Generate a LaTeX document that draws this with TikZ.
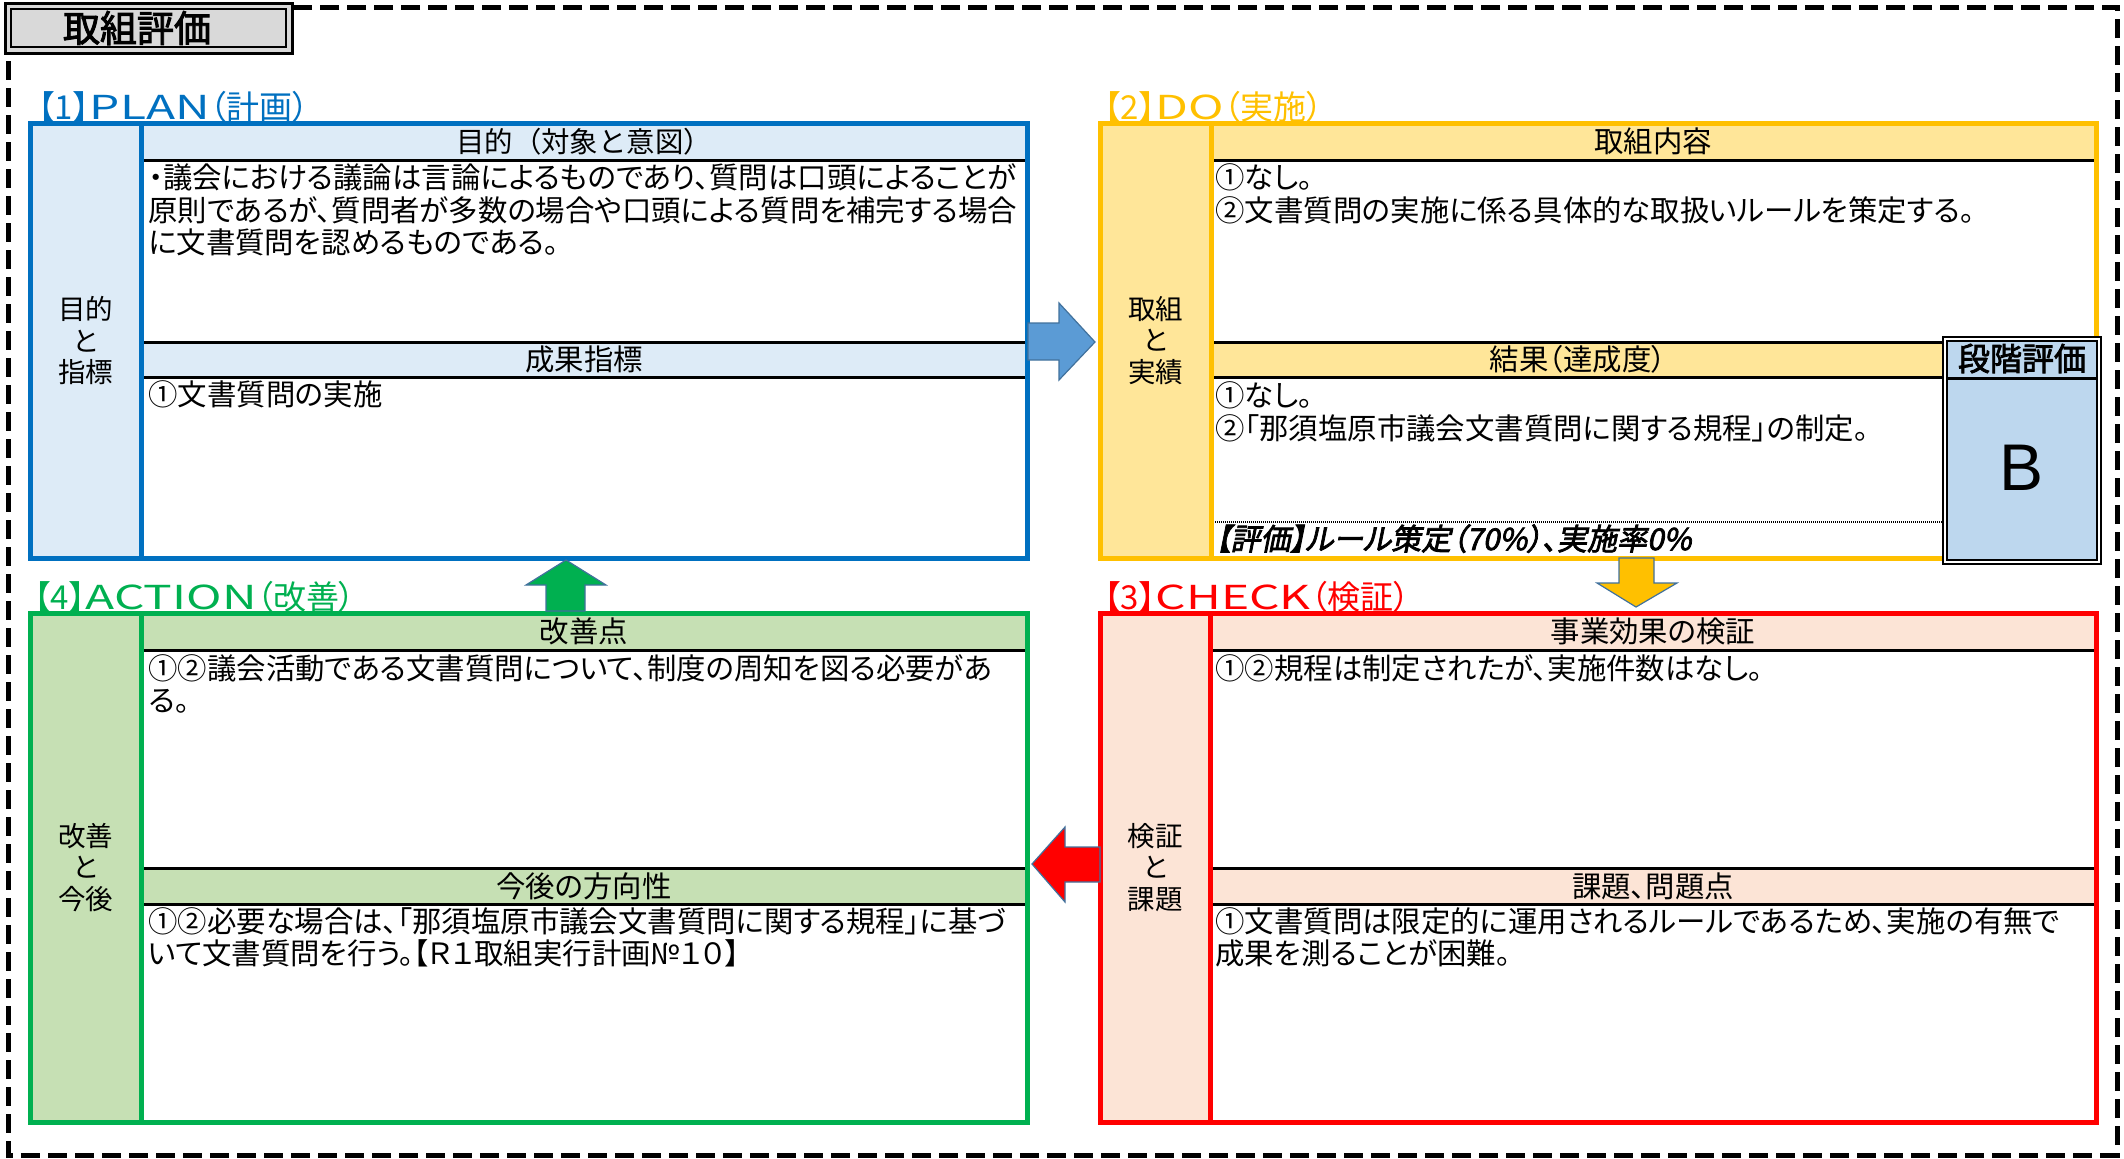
\documentclass[tikz,border=0pt]{standalone}
\usepackage{fontspec}
\usepackage{graphicx}
\usetikzlibrary{fit}
\newfontfamily\jp[RawFeature=+palt]{Noto Sans CJK JP}
\newfontfamily\jpn{Noto Sans CJK JP}
\newfontfamily\jpb[RawFeature=+palt,FakeBold=2.5]{Noto Sans CJK JP}
\newfontfamily\jpbi[RawFeature=+palt,FakeBold=2.5,FakeSlant=0.2]{Noto Sans CJK JP}
\newfontfamily\arialf{Liberation Sans}
\newcommand\bodyf{\jp\fontsize{14.7pt}{16pt}\selectfont}
\newcommand\sidef{\jp\fontsize{13.75pt}{15.9pt}\selectfont}
\newcommand\ttlf{\jp\fontsize{16.5pt}{18pt}\selectfont}
\newcommand\wide[1]{\scalebox{1.45}[1]{#1}}
\definecolor{cblue}{HTML}{0070C0}
\definecolor{fblue}{HTML}{DDEBF7}
\definecolor{cyel}{HTML}{FFC000}
\definecolor{fyel}{HTML}{FFE699}
\definecolor{cred}{HTML}{FF0000}
\definecolor{fred}{HTML}{FCE4D6}
\definecolor{cgreen}{HTML}{00B050}
\definecolor{fgreen}{HTML}{C6E0B4}
\definecolor{fgrade}{HTML}{BDD7EE}
\definecolor{ftitle}{HTML}{D9D9D9}
\definecolor{aedge}{HTML}{41719C}
\definecolor{ablue}{HTML}{5B9BD5}
\tikzset{
  body/.style={anchor=base west, inner sep=0pt, font=\bodyf},
  head/.style={anchor=center, inner sep=0pt, font=\bodyf},
  side/.style={anchor=center, align=center, inner sep=0pt, font=\sidef},
  ttl/.style={anchor=base west, inner sep=0pt, font=\ttlf},
  band/.style={line width=1.5pt, black},
  frame/.style={line width=2.5pt},
  blockarrow/.style={draw=aedge, line width=0.6pt, line join=miter},
}
\begin{document}
\begin{tikzpicture}[x=0.5pt,y=-0.5pt]
\useasboundingbox (0,0) rectangle (2124,1158);
% outer dashed frame
\draw[line width=2.5pt, dash pattern=on 9.5pt off 4pt] (8,7) rectangle (2117,1155);
% title box
\filldraw[fill=ftitle, draw=black, line width=1.5pt] (5,3) rectangle (292,53);
\draw[line width=1pt] (11,9) rectangle (286,47);
\node[inner sep=0pt, font=\jpb\fontsize{18.5pt}{20pt}\selectfont] (title) at (137,28) {取組評価};

% ===== PLAN =====
\fill[fblue] (30,123) rectangle (141,558);
\fill[fblue] (141,123) rectangle (1027,160);
\fill[fblue] (141,342) rectangle (1027,377);
\draw[band] (141,160) -- (1027,160) (141,342) -- (1027,342) (141,377) -- (1027,377);
\draw[frame, cblue] (141,123) -- (141,558);
\node[frame, draw=cblue, fit={(30,123)(1027,558)}, inner sep=0pt] (plan) {};
\node[ttl, text=cblue] (plant) at (38,119) {【1】\wide{PLAN}（計画）};
\node[head, font=\jpn\fontsize{14.2pt}{16pt}\selectfont] (planh1) at (584,141.5) {目的（対象と意図）};
\node[head] (planh2) at (584,359.5) {成果指標};
\node[side] (plans) at (85.5,340.5) {目的\\と\\指標};
\node[body] (planb1) at (148,188.5) {・議会における議論は言論によるものであり、質問は口頭によることが};
\node[body] (planb2) at (148,221) {原則であるが、質問者が多数の場合や口頭による質問を補完する場合};
\node[body] (planb3) at (148,253.5) {に文書質問を認めるものである。};
\node[body] (planb4) at (148,405) {①文書質問の実施};

% ===== DO =====
\fill[fyel] (1100,123) rectangle (1211,558);
\fill[fyel] (1211,123) rectangle (2096,160);
\fill[fyel] (1211,342) rectangle (1945,377);
\draw[band] (1211,160) -- (2096,160) (1211,342) -- (1945,342) (1211,377) -- (1945,377);
\draw[line width=0.6pt, dash pattern=on 0.5pt off 0.5pt] (1211,522) -- (1945,522);
\draw[frame, cyel] (1211,123) -- (1211,558);
\node[frame, draw=cyel, fit={(1100,123)(2096,558)}, inner sep=0pt] (do) {};
\node[ttl, text=cyel] (dot) at (1104,119) {【2】\wide{DO}（実施）};
\node[head] (doh1) at (1653,141.5) {取組内容};
\node[head] (doh2) at (1578,359.5) {結果（達成度）};
\node[side] (dos) at (1155.5,340.5) {取組\\と\\実績};
\node[body] (dob1) at (1215,188.5) {①なし。};
\node[body] (dob2) at (1215,221) {②文書質問の実施に係る具体的な取扱いルールを策定する。};
\node[body] (dob3) at (1215,406.5) {①なし。};
\node[body] (dob4) at (1215,439) {②「那須塩原市議会文書質問に関する規程」の制定。};
\node[body, font=\jpbi\fontsize{15pt}{16pt}\selectfont] (doeval) at (1215,550) {【評価】ルール策定（70\%）、実施率0\%};
% grade box
\node[draw=black, double=white, line width=0.9pt, double distance=1pt, fill=fgrade, fit={(1945,339)(2099,562)}, inner sep=0pt] (grade) {};
\draw[band] (1948,378) -- (2096,378);
\node[head, font=\jpb\fontsize{16pt}{18pt}\selectfont] (gradeh) at (2022,358.5) {段階評価};
\node[inner sep=0pt, font=\arialf\fontsize{33pt}{36pt}\selectfont] (gradeb) at (2021,468) {B};

% ===== CHECK =====
\fill[fred] (1100,613) rectangle (1210,1122);
\fill[fred] (1210,613) rectangle (2096,650);
\fill[fred] (1210,868) rectangle (2096,904);
\draw[band] (1210,650) -- (2096,650) (1210,868) -- (2096,868) (1210,904) -- (2096,904);
\draw[frame, cred] (1210,613) -- (1210,1122);
\node[frame, draw=cred, fit={(1100,613)(2096,1122)}, inner sep=0pt] (check) {};
\node[ttl, text=cred] (checkt) at (1104,609) {【3】\wide{CHECK}（検証）};
\node[head] (checkh1) at (1653,631.5) {事業効果の検証};
\node[head] (checkh2) at (1653,886) {課題、問題点};
\node[side] (checks) at (1155,867.5) {検証\\と\\課題};
\node[body] (checkb1) at (1215,679) {①②規程は制定されたが、実施件数はなし。};
\node[body] (checkb2) at (1215,932) {①文書質問は限定的に運用されるルールであるため、実施の有無で};
\node[body] (checkb3) at (1215,964.5) {成果を測ることが困難。};

% ===== ACTION =====
\fill[fgreen] (30,613) rectangle (141,1122);
\fill[fgreen] (141,613) rectangle (1027,650);
\fill[fgreen] (141,868) rectangle (1027,904);
\draw[band] (141,650) -- (1027,650) (141,868) -- (1027,868) (141,904) -- (1027,904);
\draw[frame, cgreen] (141,613) -- (141,1122);
\node[frame, draw=cgreen, fit={(30,613)(1027,1122)}, inner sep=0pt] (act) {};
\node[ttl, text=cgreen] (actt) at (34,609) {【4】\wide{ACTION}（改善）};
\node[head] (acth1) at (584,631.5) {改善点};
\node[head] (acth2) at (584,886) {今後の方向性};
\node[side] (acts) at (85.5,867.5) {改善\\と\\今後};
\node[body] (actb1) at (148,679) {①②議会活動である文書質問について、制度の周知を図る必要があ};
\node[body] (actb2) at (148,711) {る。};
\node[body] (actb3) at (148,932) {①②必要な場合は、「那須塩原市議会文書質問に関する規程」に基づ};
\node[body] (actb4) at (148,964.5) {いて文書質問を行う。【Ｒ１取組実行計画№１０】};

% ===== block arrows =====
\filldraw[blockarrow, fill=ablue] (1028,323) -- (1059,323) -- (1059,303) -- (1095,342) -- (1059,380) -- (1059,360) -- (1028,360) -- cycle;
\filldraw[blockarrow, fill=cyel] (1619,558) -- (1654,558) -- (1654,583) -- (1677,583) -- (1636,607) -- (1597,583) -- (1619,583) -- cycle;
\filldraw[blockarrow, fill=cred] (1100,847) -- (1065,847) -- (1065,827) -- (1032,864) -- (1065,902) -- (1065,882) -- (1100,882) -- cycle;
\filldraw[blockarrow, fill=cgreen] (546,611) -- (546,585) -- (526,585) -- (566,560) -- (606,585) -- (585,585) -- (585,611) -- cycle;
\end{tikzpicture}
\end{document}
